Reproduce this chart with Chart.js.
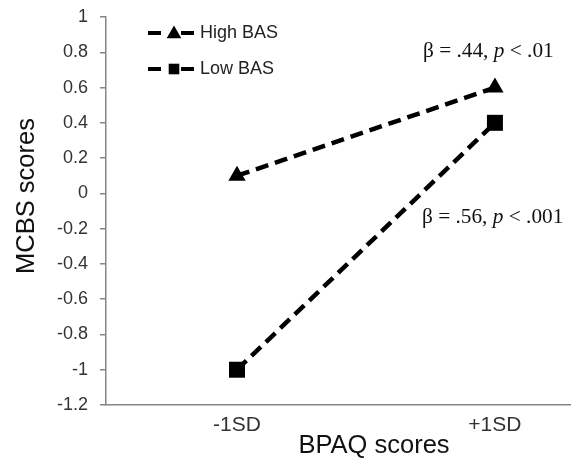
<!DOCTYPE html>
<html>
<head>
<meta charset="utf-8">
<script src="https://cdn.jsdelivr.net/npm/chart.js@4.4.0/dist/chart.umd.min.js"></script>
<style>
html, body { margin: 0; padding: 0; background: #fff; }
</style>
</head>
<body>
<canvas id="grafico" width="571" height="464"></canvas>
<script>
// Dados do gráfico
const categorias = ['-1SD', '+1SD'];
const nomesSeries = ['High BAS', 'Low BAS'];
const highBAS = [0.1, 0.6];
const lowBAS = [-1, 0.4];
const yMin = -1.2;
const yMax = 1;
const yPasso = 0.2;
const tituloX = 'BPAQ scores';
const tituloY = 'MCBS scores';
const anotacoes = [
    ['β = .44, ', 'p', ' < .01'],
    ['β = .56, ', 'p', ' < .001']
];

const corEixo = '#868686';
const corTexto = '#333333';

// Plugin que desenha títulos dos eixos, legenda e anotações
const extras = {
    id: 'extras',
    afterDraw(chart) {
        const ctx = chart.ctx;
        ctx.save();
        ctx.fillStyle = '#111';
        ctx.font = '25.5px "Liberation Sans", Arial, sans-serif';
        ctx.textAlign = 'center';
        ctx.textBaseline = 'middle';
        ctx.fillText(tituloX, 374, 446);
        ctx.save();
        ctx.translate(27, 196);
        ctx.rotate(-Math.PI / 2);
        ctx.fillText(tituloY, 0, 0);
        ctx.restore();

        // legenda
        const linhasY = [33, 69];
        const estilos = [
            { pointStyle: 'triangle', radius: 8.5, borderWidth: 0 },
            { pointStyle: 'rect', radius: 7.5, borderWidth: 0 }
        ];
        ctx.strokeStyle = '#000';
        ctx.fillStyle = '#000';
        ctx.lineWidth = 4;
        linhasY.forEach((y, i) => {
            ctx.beginPath();
            ctx.moveTo(148, y); ctx.lineTo(161, y);
            ctx.moveTo(181, y); ctx.lineTo(194, y);
            ctx.stroke();
            Chart.helpers.drawPoint(ctx, estilos[i], 174, y + (i === 0 ? 1 : 0));
        });
        ctx.fillStyle = '#222';
        ctx.font = '18px "Liberation Sans", Arial, sans-serif';
        ctx.textAlign = 'left';
        nomesSeries.forEach((nome, i) => ctx.fillText(nome, 200, linhasY[i]));

        // anotações com p em itálico
        const posicoes = [[423, 57], [422, 223]];
        ctx.textBaseline = 'alphabetic';
        ctx.fillStyle = '#111';
        anotacoes.forEach((partes, i) => {
            let x = posicoes[i][0];
            partes.forEach((parte, j) => {
                ctx.font = (j === 1 ? 'italic ' : '') + '21.3px "Liberation Serif", "Times New Roman", serif';
                ctx.fillText(parte, x, posicoes[i][1]);
                x += ctx.measureText(parte).width;
            });
        });
        ctx.restore();
    }
};

const ctx = document.getElementById('grafico').getContext('2d');
new Chart(ctx, {
    type: 'line',
    data: {
        datasets: [
            {
                label: nomesSeries[0],
                data: highBAS.map((v, i) => ({ x: i, y: v })),
                borderColor: '#000',
                backgroundColor: '#000',
                borderWidth: 4.5,
                borderDash: [13, 7],
                pointStyle: 'triangle',
                pointRadius: 10,
                pointBorderWidth: 0,
                pointBackgroundColor: '#000'
            },
            {
                label: nomesSeries[1],
                data: lowBAS.map((v, i) => ({ x: i, y: v })),
                borderColor: '#000',
                backgroundColor: '#000',
                borderWidth: 4.5,
                borderDash: [13, 7],
                pointStyle: 'rect',
                pointRadius: 11.3,
                pointBorderWidth: 0,
                pointBackgroundColor: '#000'
            }
        ]
    },
    options: {
        responsive: false,
        animation: false,
        layout: { autoPadding: false, padding: { top: 17, right: 0, bottom: 0, left: 0 } },
        plugins: {
            legend: { display: false },
            tooltip: { enabled: false }
        },
        scales: {
            x: {
                type: 'linear',
                min: -0.508,
                max: 1.295,
                afterBuildTicks: (s) => { s.ticks = categorias.map((c, i) => ({ value: i })); },
                afterFit: (s) => {
                    s.height = 59;
                    s.paddingLeft = 0;
                    s.paddingRight = 0;
                },
                ticks: {
                    callback: (v) => categorias[v],
                    color: corTexto,
                    font: { family: '"Liberation Sans", Arial, sans-serif', size: 21 },
                    padding: 8,
                    maxRotation: 0
                },
                grid: { drawOnChartArea: false, drawTicks: false },
                border: { display: true, color: corEixo, width: 1.5 }
            },
            y: {
                min: yMin,
                max: yMax,
                afterFit: (s) => {
                    s.width = 106;
                    s.paddingTop = 0;
                    s.paddingBottom = 0;
                },
                ticks: {
                    stepSize: yPasso,
                    callback: (v) => String(Math.round(v * 10) / 10),
                    color: corTexto,
                    font: { family: '"Liberation Sans", Arial, sans-serif', size: 18 },
                    padding: 12
                },
                grid: { drawOnChartArea: false, drawTicks: true, tickLength: 6, color: corEixo, lineWidth: 1.5 },
                border: { display: true, color: corEixo, width: 1.5 }
            }
        }
    },
    plugins: [extras]
});
</script>
</body>
</html>
